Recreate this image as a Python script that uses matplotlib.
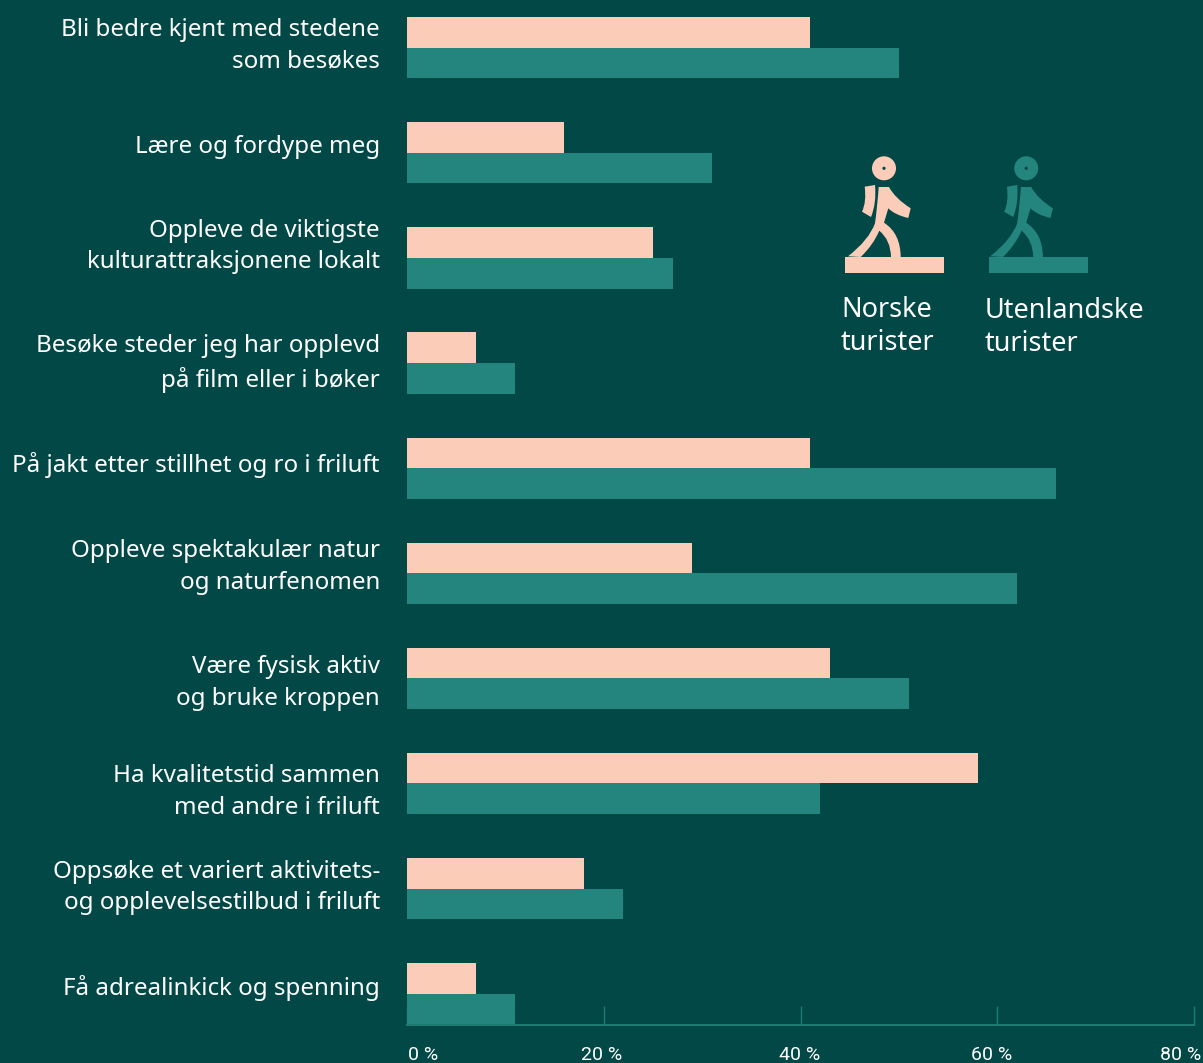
import matplotlib
matplotlib.use('Agg')
import matplotlib.pyplot as plt
import numpy as np
from matplotlib.path import Path
from matplotlib.patches import PathPatch, Circle, Rectangle
from matplotlib.transforms import ScaledTranslation

W, H = 1203, 1063
BG = '#024846'
PEACH = '#FBCDB9'
TEAL = '#23857D'
AXIS = '#1D7C75'

categories = [
    'Bli bedre kjent med stedene\nsom besøkes',
    'Lære og fordype meg',
    'Oppleve de viktigste\nkulturattraksjonene lokalt',
    'Besøke steder jeg har opplevd\npå film eller i bøker',
    'På jakt etter stillhet og ro i friluft',
    'Oppleve spektakulær natur\nog naturfenomen',
    'Være fysisk aktiv\nog bruke kroppen',
    'Ha kvalitetstid sammen\nmed andre i friluft',
    'Oppsøke et variert aktivitets-\nog opplevelsestilbud i friluft',
    'Få adrealinkick og spenning',
]
norske = [41, 16, 25, 7, 41, 29, 43, 58, 18, 7]
utenlandske = [50, 31, 27, 11, 66, 62, 51, 42, 22, 11]
xticks = [0, 20, 40, 60, 80]
xticklabels = ['0 %', '20 %', '40 %', '60 %', '80 %']

# labels are not quite centred on their rows / ticks in the original (pixels)
label_dy = [9, 9, 18, 6.5, 6, 13, 2, -2, 8, 9]
tick_dx = [16, -2, -1, -6, -13]

plt.rcParams['font.family'] = ['Noto Sans', 'DejaVu Sans']

fig = plt.figure(figsize=(W / 100, H / 100), dpi=100, facecolor=BG)

row = 105.1
ax = fig.add_axes([407 / W, (H - 1024.5) / H, (1194 - 407) / W, 1024.5 / H])
ax.set_facecolor('none')
ax.set_xlim(0, 80)
ax.set_ylim((1024.5 - 47.7) / row, -47.7 / row)

y = np.arange(len(categories))
h = 30.6 / row
ax.barh(y - h / 2, norske, height=h, color=PEACH, zorder=3)
ax.barh(y + h / 2, utenlandske, height=h, color=TEAL, zorder=3)

for s in ['top', 'right', 'left']:
    ax.spines[s].set_visible(False)
ax.spines['bottom'].set_color(AXIS)
ax.spines['bottom'].set_linewidth(1.4)

ax.set_yticks(y)
ax.set_yticklabels(categories, fontsize=17.4, color='white', ma='right', linespacing=1.41)
ax.tick_params(axis='y', length=0, pad=19.5)
for lab, dy in zip(ax.get_yticklabels(), label_dy):
    lab.set_transform(lab.get_transform() + ScaledTranslation(0, dy / 100, fig.dpi_scale_trans))

ax.set_xticks(xticks)
ax.set_xticklabels(xticklabels, fontfamily=['Roboto', 'DejaVu Sans'], fontsize=14, color='white')
ax.tick_params(axis='x', direction='in', length=14, width=1, color=AXIS, pad=15.5)
for lab, dx in zip(ax.get_xticklabels(), tick_dx):
    lab.set_transform(lab.get_transform() + ScaledTranslation(dx / 100, 0, fig.dpi_scale_trans))


# overlay in pixel coordinates for the two walking figures
ov = fig.add_axes([0, 0, 1, 1])
ov.set_xlim(0, W)
ov.set_ylim(H, 0)
ov.axis('off')
ov.patch.set_alpha(0)


def walker(x0, color, text, text_x, text_y, body_dx=0):
    # shapes, units are px relative to the ground bar
    def shift(pts):
        return [(x0 + body_dx + a, 185 + b) for a, b in pts]

    M, L, C, Z = Path.MOVETO, Path.LINETO, Path.CURVE3, Path.CLOSEPOLY
    arm_pts = [(19.7, 1.7), (30, 0), (31.7, 18.3), (26, 32), (17, 26.7), (21.7, 16.7), (19.7, 1.7), (19.7, 1.7)]
    arm_codes = [M, L, C, C, L, C, C, Z]
    ov.add_patch(PathPatch(Path(shift(arm_pts), arm_codes), fc=color, ec='none'))

    body_pts = [(33.7, 2), (44, 2), (50, 13.3), (65.7, 23.3), (63.3, 33), (50, 30), (43.3, 23.3),
                (39, 37.7), (55.5, 48.3), (55.7, 72), (46, 72), (45.7, 55), (34.3, 45.7),
                (28.3, 60), (15.7, 72), (3, 71.3), (24, 55), (30, 38.3), (32.3, 21.7), (33.7, 2), (33.7, 2)]
    body_codes = [M, L, C, C, L, C, C, L, C, C, L, C, C, C, C, L, C, C, C, C, Z]
    ov.add_patch(PathPatch(Path(shift(body_pts), body_codes), fc=color, ec='none'))

    ov.add_patch(Rectangle((x0, 257), 99, 16, fc=color, ec='none'))
    ov.add_patch(Circle((x0 + body_dx + 39, 168.3), 12, fc=color, ec='none'))
    ov.add_patch(Circle((x0 + body_dx + 39, 168.3), 1.6, fc=BG, ec='none'))
    ov.text(text_x, text_y, text, color='white', fontsize=19.5, va='center', ha='left', linespacing=1.2)


walker(845, PEACH, 'Norske\nturister', 841, 326.5)
walker(989, TEAL, 'Utenlandske\nturister', 985, 327.5, body_dx=-1.8)

fig.savefig('out.png', dpi=100, facecolor=BG)
